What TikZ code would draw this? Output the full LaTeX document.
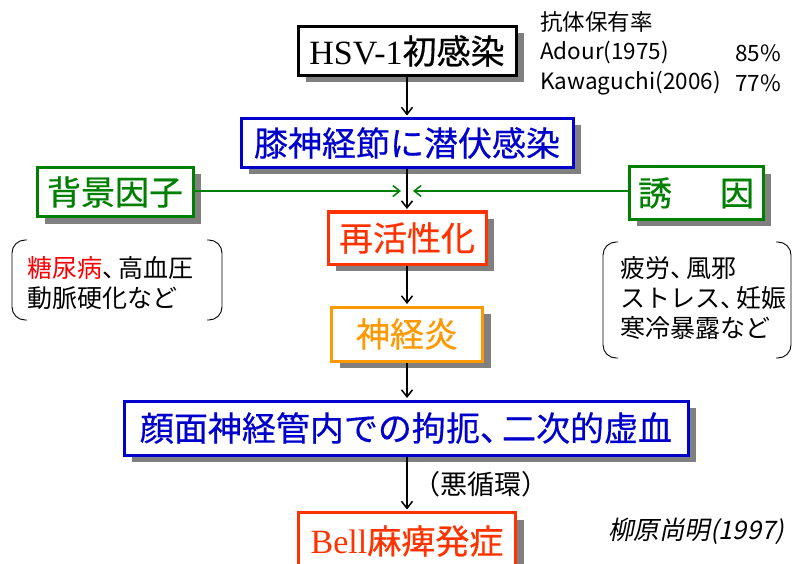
\documentclass[tikz,border=0pt]{standalone}
\usepackage{fontspec}
\setmainfont{Noto Sans CJK JP}
\newfontfamily\ser{Liberation Serif}
\newfontfamily\cjkm[FakeBold=0.5]{Noto Sans CJK JP}
\newfontfamily\slnt[FakeSlant=0.2]{Noto Sans CJK JP}
\newcommand\tten{、\hspace{-0.35em}}
\usetikzlibrary{arrows.meta,shadows}
\definecolor{cblue}{RGB}{0,0,204}
\definecolor{cgreen}{RGB}{0,128,0}
\definecolor{cred}{RGB}{255,51,0}
\definecolor{corange}{RGB}{255,153,0}
\definecolor{cshadow}{RGB}{128,128,128}
\begin{document}
\begin{tikzpicture}[x=1pt,y=-1pt,
  box/.style={draw, line width=3pt, fill=white, inner sep=0pt,
    font=\fontsize{34}{38}\selectfont\cjkm,
    drop shadow={shadow xshift=8pt,shadow yshift=-7pt,fill=cshadow,opacity=1}},
  arr/.style={line width=1.5pt, -{Straight Barb[length=7pt,width=11pt,line width=1.5pt]}, shorten >=1.5pt},
  garr/.style={cgreen, line width=1.5pt, -{Straight Barb[length=7pt,width=11pt,line width=1.5pt]}},
  brk/.style={line width=0.9pt, rounded corners=13pt},
  note/.style={font=\fontsize{25}{30}\selectfont, align=left, inner sep=0pt},
  info/.style={font=\fontsize{22.5}{27}\selectfont, inner sep=0pt}
]
\useasboundingbox (0,0) rectangle (792,564);

% main column
\node[box, minimum width=218pt, minimum height=49pt] (hsv) at (407,51) {{\ser HSV-1}初感染};
\node[box, draw=cblue, text=cblue, minimum width=332pt, minimum height=49pt] (sen) at (407,143) {膝神経節に潜伏感染};
\node[box, draw=cred, text=cred, minimum width=158pt, minimum height=52pt] (sai) at (407,238) {再活性化};
\node[box, draw=corange, text=corange, minimum width=151pt, minimum height=54pt] (shin) at (407,334) {神経炎};
\node[box, draw=cblue, text=cblue, minimum width=564pt, minimum height=54pt] (gan) at (406,428) {顔面神経管内での拘扼\tten 二次的虚血};
\node[box, draw=cred, text=cred, minimum width=217pt, minimum height=57pt] (bell) at (407,541) {{\ser Bell}麻痺発症};

% side factors
\node[box, draw=cgreen, text=cgreen, minimum width=156pt, minimum height=49pt] (hai) at (115,192) {背景因子};
\node[box, draw=cgreen, text=cgreen, minimum width=134pt, minimum height=52pt] (yuin) at (696,193) {誘\hspace{48pt}因};

\coordinate (jl) at (401,191);
\coordinate (jr) at (413,191);

% arrows
\draw[arr] (hsv.south) -- (sen.north);
\draw[arr] (sen.south) -- (sai.north);
\draw[arr] (sai.south) -- (shin.north);
\draw[arr] (shin.south) -- (shin.south |- gan.north);
\draw[arr] (gan.south -| bell.north) -- (bell.north)
  node[pos=0.5, anchor=west, font=\fontsize{27}{30}\selectfont, xshift=2pt] (aku) {（悪循環）};
\draw[garr] (hai.east |- jl) -- (jl);
\draw[garr] (yuin.west |- jr) -- (jr);

% brackets left
\draw[brk] (27,240) -- (12,240) -- (12,320) -- (27,320);
\draw[brk] (207,240) -- (222,240) -- (222,320) -- (207,320);
\node[note, anchor=west] (lnote) at (27,283) {\textcolor{red}{糖尿病}\tten 高血圧\\動脈硬化など};

% brackets right
\draw[brk] (618,242) -- (603,242) -- (603,358) -- (618,358);
\draw[brk] (776,242) -- (791,242) -- (791,358) -- (776,358);
\node[note, anchor=west] (rnote) at (620,298) {疲労\tten 風邪\\ストレス\tten 妊娠\\寒冷暴露など};

% antibody info
\node[info, anchor=west] (kotai) at (540,22) {抗体保有率};
\node[info, anchor=west] (adour) at (540,53) {Adour(1975)};
\node[info, anchor=east] (p85) at (781,53) {85\%};
\node[info, anchor=west] (kawa) at (540,83) {Kawaguchi(2006)};
\node[info, anchor=east] (p77) at (781,83) {77\%};

% citation
\node[font=\fontsize{25.5}{28}\selectfont\slnt, anchor=west, inner sep=0pt] (cite) at (608,531) {柳原尚明(1997)};
\end{tikzpicture}
\end{document}
